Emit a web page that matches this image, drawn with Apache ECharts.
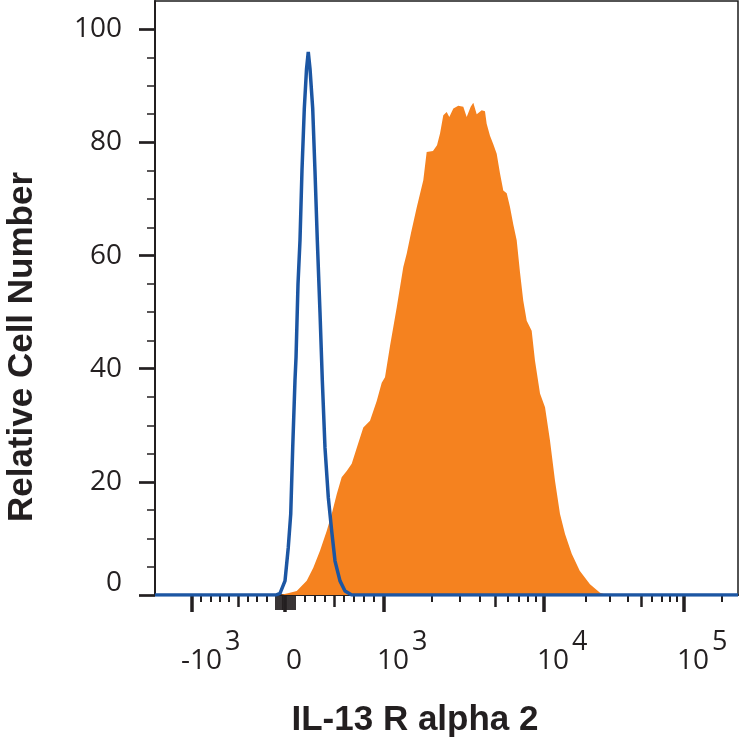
<!DOCTYPE html>
<html>
<head>
<meta charset="utf-8">
<title>IL-13 R alpha 2</title>
<script src="https://cdn.jsdelivr.net/npm/echarts@6.0.0/dist/echarts.min.js"></script>
<style>
  html, body { margin: 0; padding: 0; background: #fff; }
  #main { width: 741px; height: 745px; }
</style>
</head>
<body>
<div id="main"></div>
<script>
// x values are display channels (0-1000 across the plot), y = relative cell number
const isotypeX = [0, 207.5, 214.4, 223.0, 228.6, 232.8, 236.2, 240.1, 241.9, 245.3, 248.7, 252.1, 256.1, 259.9,
  262.9, 265.9, 270.5, 274.4, 278.4, 283.0, 287.0, 291.6, 297.3, 303.1, 308.8, 317.3, 325.9, 337.4, 1000];
const isotypeY = [0, 0, 0.3, 2.5, 8.4, 14.3, 26, 37.9, 42, 55, 62.7, 75, 86, 93,
  96, 93, 86, 75, 62.7, 50, 37.9, 26, 17.2, 11.3, 6, 2.5, 0.7, 0, 0];

const stainedX = [214.4, 228.1, 243.1, 260.2, 271.5, 283.0, 294.5, 303.1, 311.7, 320.2, 328.8, 337.4, 346.0,
  357.3, 368.8, 380.3, 388.9, 394.5, 403.1, 414.6, 425.9, 431.7, 439.1, 448.9, 460.2, 466.0, 476.8, 483.7,
  488.9, 494.5, 500.3, 504.8, 511.7, 520.2, 528.8, 534.6, 541.5, 546.0, 551.8, 554.5, 560.4, 566.0, 568.9,
  574.6, 580.3, 586.1, 591.8, 597.4, 603.3, 608.9, 614.6, 620.4, 626.1, 631.7, 637.6, 646.1, 651.8, 660.4,
  669.0, 677.5, 686.1, 694.7, 703.3, 714.8, 728.5, 746.1, 763.3, 774.8];
const stainedY = [0, 0.3, 0.7, 2.5, 4.8, 7.8, 11.3, 14.3, 17.8, 20.8, 21.9, 23.2, 26,
  29.6, 30.8, 34.3, 37.5, 38.5, 44, 50.8, 58, 60.3, 64, 68.5, 73.3, 78.3, 78.5, 79.5,
  81.6, 84.8, 85.4, 84.5, 86, 86.5, 86.3, 84.5, 86.3, 87, 85, 84.8, 85.7, 85.5, 83.3,
  81.2, 79.7, 78, 74.5, 71.5, 71, 68.6, 65.5, 62.7, 57, 52, 48.5, 46.7, 41.4, 35.6,
  33.2, 27.3, 20.2, 14.3, 10.8, 7.3, 4.3, 1.9, 0.4, 0];

// x axis ticks (fluorescence values) and labels
const majorValues = [-1000, 0, 1000, 10000, 100000];
const majorLabels = ['{b|-10}{s|3}', '{z|0}', '{b|10}{s|3}', '{b|10}{s|4}', '{b|10}{s|5}'];
const midValues = [-500, 500, 5000, 50000];
const minorValues = [-900, -800, -700, -600, -400, -300, -200, 200, 300, 400, 600, 700, 800, 900,
  2000, 3000, 4000, 6000, 7000, 8000, 9000, 20000, 30000, 40000, 60000, 70000, 80000, 90000, 200000];
const nearZeroValues = [-100, -80, -60, -40, -20, 20, 40, 60, 80, 100];

// y axis ticks
const yMajor = [0, 20, 40, 60, 80, 100];
const yMinor = [5, 10, 15, 25, 30, 35, 45, 50, 55, 65, 70, 75, 85, 90, 95];

// biexponential display: linear around zero, log above 10^3
const CAL = { neg: 63.0, zero: 223.0, pos: 391.6, dec: { 3: 391.6, 4: 666.0, 5: 906.2 }, lastDecade: 219 };
function toCh(v) {
  if (v <= 0) return CAL.zero + v / 1000 * (CAL.zero - CAL.neg);
  if (v <= 1000) return CAL.zero + v / 1000 * (CAL.pos - CAL.zero);
  const e = Math.log10(v);
  const k = Math.min(Math.floor(e + 1e-9), 5);
  const next = k < 5 ? CAL.dec[k + 1] : CAL.dec[5] + CAL.lastDecade;
  return CAL.dec[k] + (e - k) * (next - CAL.dec[k]);
}

const ink = '#231f20';
const labelFont = '"Open Sans", "Noto Sans", sans-serif';
const titleFont = '"Liberation Sans", Arial, sans-serif';
const majorCh = majorValues.map(toCh);

function tickAxis(values, len, width) {
  return {
    type: 'value', min: 0, max: 1000, position: 'bottom',
    axisLine: { show: false },
    splitLine: { show: false },
    axisLabel: { show: false },
    axisTick: { show: true, customValues: values.map(toCh), length: len, lineStyle: { color: ink, width: width } }
  };
}

const chart = echarts.init(document.getElementById('main'));
chart.setOption({
  animation: false,
  grid: {
    left: 155, right: 3, top: 1, bottom: 150,
    show: true, borderColor: '#1b1b1b', borderWidth: 1.5,
    containLabel: false, outerBoundsMode: 'none'
  },
  xAxis: [
    {
      type: 'value', min: 0, max: 1000, position: 'bottom',
      axisLine: { show: true, lineStyle: { color: ink, width: 2 } },
      splitLine: { show: false },
      axisTick: { show: true, customValues: majorCh, length: 17, lineStyle: { color: ink, width: 3.5 } },
      axisLabel: {
        customValues: majorCh,
        margin: 50,
        color: ink,
        fontFamily: labelFont,
        fontSize: 28,
        formatter: function (val) {
          let best = 0;
          majorCh.forEach(function (c, i) { if (Math.abs(c - val) < Math.abs(majorCh[best] - val)) best = i; });
          return majorLabels[best];
        },
        rich: {
          b: { fontSize: 28, fontFamily: labelFont, color: ink, verticalAlign: 'bottom', lineHeight: 30, padding: [0, 0, 0, 38] },
          s: { fontSize: 27, fontFamily: labelFont, color: ink, verticalAlign: 'bottom', lineHeight: 30, padding: [0, 0, 19, 3] },
          z: { fontSize: 28, fontFamily: labelFont, color: ink, verticalAlign: 'bottom', lineHeight: 30, padding: [19, 0, 0, 18] }
        }
      }
    },
    tickAxis(midValues, 12, 2.5),
    tickAxis(minorValues, 7, 2),
    tickAxis(nearZeroValues, 15, 1.8)
  ],
  yAxis: [
    {
      type: 'value', min: 0, max: 105, position: 'left',
      axisLine: { show: true, lineStyle: { color: ink, width: 2 } },
      splitLine: { show: false },
      axisTick: { show: true, customValues: yMajor, length: 16, lineStyle: { color: ink, width: 2.7 } },
      axisLabel: {
        customValues: yMajor,
        margin: 33,
        color: ink,
        fontFamily: labelFont,
        fontSize: 28,
        formatter: function (v) { return v === 0 ? '{z|0}' : String(v); },
        rich: {
          z: { fontSize: 28, fontFamily: labelFont, color: ink, padding: [0, 0, 24, 0] }
        }
      }
    },
    {
      type: 'value', min: 0, max: 105, position: 'left',
      axisLine: { show: false },
      splitLine: { show: false },
      axisLabel: { show: false },
      axisTick: { show: true, customValues: yMinor, length: 8, lineStyle: { color: ink, width: 1.5 } }
    }
  ],
  series: [
    {
      name: 'IL-13 R alpha 2',
      type: 'line',
      xAxisIndex: 0, yAxisIndex: 0,
      data: stainedX.map(function (x, i) { return [x, stainedY[i]]; }),
      symbol: 'none',
      lineStyle: { width: 0 },
      itemStyle: { color: '#f5821f' },
      areaStyle: { color: '#f5821f', opacity: 1 },
      z: 2
    },
    {
      name: 'Isotype control',
      type: 'line',
      xAxisIndex: 0, yAxisIndex: 0,
      data: isotypeX.map(function (x, i) { return [x, isotypeY[i]]; }),
      symbol: 'none',
      lineStyle: { color: '#1c56a3', width: 3.5 },
      itemStyle: { color: '#1c56a3' },
      z: 3
    }
  ],
  graphic: [
    {
      type: 'text', x: 22, y: 347, rotation: Math.PI / 2,
      style: { text: 'Relative Cell Number', font: 'bold 35px ' + titleFont, fill: ink, textAlign: 'center', textVerticalAlign: 'middle' }
    },
    {
      type: 'text', x: 415, y: 720,
      style: { text: 'IL-13 R alpha 2', font: 'bold 35px ' + titleFont, fill: ink, textAlign: 'center', textVerticalAlign: 'middle' }
    }
  ]
});
</script>
</body>
</html>
